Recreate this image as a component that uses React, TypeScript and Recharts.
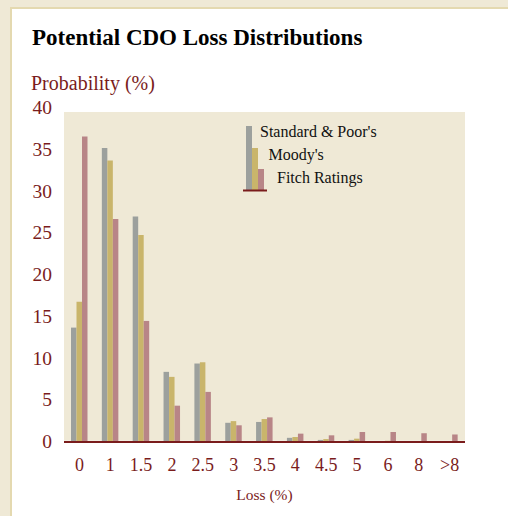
import React from 'react';
import { BarChart, Bar, XAxis, YAxis, CartesianGrid, Legend } from 'recharts';

const LOSS_BUCKETS = ['0', '1', '1.5', '2', '2.5', '3', '3.5', '4', '4.5', '5', '6', '8', '>8'];
const SP_VALUES = [13.7, 35.2, 27.0, 8.4, 9.4, 2.3, 2.4, 0.5, 0.25, 0.25, 0.1, 0.05, 0];
const MOODYS_VALUES = [16.8, 33.7, 24.8, 7.8, 9.55, 2.5, 2.75, 0.6, 0.35, 0.4, 0.15, 0.1, 0];
const FITCH_VALUES = [36.6, 26.7, 14.5, 4.35, 6.0, 2.0, 2.95, 1.0, 0.8, 1.2, 1.2, 1.05, 0.9];
const Y_TICKS = [0, 5, 10, 15, 20, 25, 30, 35, 40];

const SERIES = [
  { key: 'sp', name: "Standard & Poor's", color: '#9ca09d' },
  { key: 'moodys', name: "Moody's", color: '#c9b56b' },
  { key: 'fitch', name: 'Fitch Ratings', color: '#b88587' },
];

const DATA = LOSS_BUCKETS.map((loss, i) => ({
  loss,
  sp: SP_VALUES[i],
  moodys: MOODYS_VALUES[i],
  fitch: FITCH_VALUES[i],
}));

const DARK_RED = '#7a1c1c';
const BEIGE = '#efe9d6';
const FONT = '"Liberation Serif", "DejaVu Serif", serif';

const AxisTick = (props: any) => {
  const { x, y, payload } = props;
  return (
    <text x={x} y={y} dy={6} textAnchor="end" fill={DARK_RED} fontSize={19.5} fontFamily={FONT}>
      {payload.value}
    </text>
  );
};

// legend drawn as a little stepped bar icon with staggered labels
const LegendContent = (props: any) => {
  const payload = props.payload || [];
  const items = SERIES.map((s) => payload.find((p: any) => p.value === s.name) || { value: s.name, color: s.color });
  const heights = [64, 42, 21];
  return (
    <div style={{ position: 'relative', width: 170, height: 70, fontFamily: FONT }}>
      <svg width={26} height={70} style={{ position: 'absolute', left: 0, top: 0 }}>
        {items.map((it: any, i: number) => (
          <rect key={i} x={3 + i * 6} y={66 - heights[i]} width={6} height={heights[i]} fill={it.color} />
        ))}
        <line x1={0} x2={24} y1={66.5} y2={66.5} stroke={DARK_RED} strokeWidth={2} />
      </svg>
      {items.map((it: any, i: number) => (
        <span
          key={it.value}
          style={{
            position: 'absolute',
            left: 17 + i * 8.5,
            top: -1.5 + i * 23.3,
            fontSize: 16,
            lineHeight: '17px',
            color: '#111',
            whiteSpace: 'nowrap',
          }}
        >
          {it.value}
        </span>
      ))}
    </div>
  );
};

export default function App() {
  return (
    <div style={{ position: 'absolute', left: 0, top: 0, width: 508, height: 516, background: BEIGE, overflow: 'hidden' }}>
      {/* white card */}
      <div
        style={{
          position: 'absolute',
          left: 10,
          top: 7,
          width: 520,
          height: 530,
          background: '#fff',
          border: '2px solid #e4d9b0',
        }}
      />
      <div
        style={{
          position: 'absolute',
          left: 32,
          top: 25.5,
          fontFamily: FONT,
          fontWeight: 'bold',
          fontSize: 23,
          lineHeight: 1,
          color: '#000',
          whiteSpace: 'nowrap',
        }}
      >
        Potential CDO Loss Distributions
      </div>
      <div
        style={{
          position: 'absolute',
          left: 31,
          top: 72.5,
          fontFamily: FONT,
          fontSize: 20,
          lineHeight: 1,
          color: DARK_RED,
          whiteSpace: 'nowrap',
        }}
      >
        Probability (%)
      </div>
      {/* plot background */}
      <div style={{ position: 'absolute', left: 64, top: 112, width: 401, height: 330, background: BEIGE }} />
      <div style={{ position: 'absolute', left: 0, top: 0 }}>
        <BarChart
          width={508}
          height={516}
          data={DATA}
          margin={{ top: 108, right: 0, bottom: 0, left: 0 }}
          barGap={0}
        >
          <CartesianGrid vertical={false} stroke="#ffffff" strokeWidth={2.5} />
          <XAxis
            dataKey="loss"
            height={74}
            tickLine={false}
            tickSize={0}
            tickMargin={16}
            axisLine={{ stroke: DARK_RED, strokeWidth: 2 }}
            tick={{ fill: DARK_RED, fontSize: 18, fontFamily: FONT }}
            interval={0}
            label={{ value: 'Loss (%)', position: 'insideBottom', offset: 16, fill: DARK_RED, fontSize: 15.5, fontFamily: FONT }}
          />
          <YAxis
            yAxisId="left"
            width={64}
            domain={[0, 40]}
            ticks={Y_TICKS}
            axisLine={false}
            tickLine={false}
            tickSize={0}
            tickMargin={12}
            tick={<AxisTick />}
          />
          <YAxis
            yAxisId="right"
            orientation="right"
            width={43}
            domain={[0, 40]}
            ticks={Y_TICKS}
            axisLine={false}
            tickLine={false}
            tickSize={0}
            tickMargin={36}
            tick={<AxisTick />}
          />
          <Legend
            layout="vertical"
            align="center"
            verticalAlign="middle"
            content={<LegendContent />}
            wrapperStyle={{ left: 243, top: 124, width: 170, height: 70 }}
          />
          {SERIES.map((s) => (
            <Bar
              key={s.key}
              yAxisId="left"
              dataKey={s.key}
              name={s.name}
              fill={s.color}
              barSize={5.5}
              isAnimationActive={false}
            />
          ))}
        </BarChart>
      </div>
    </div>
  );
}
